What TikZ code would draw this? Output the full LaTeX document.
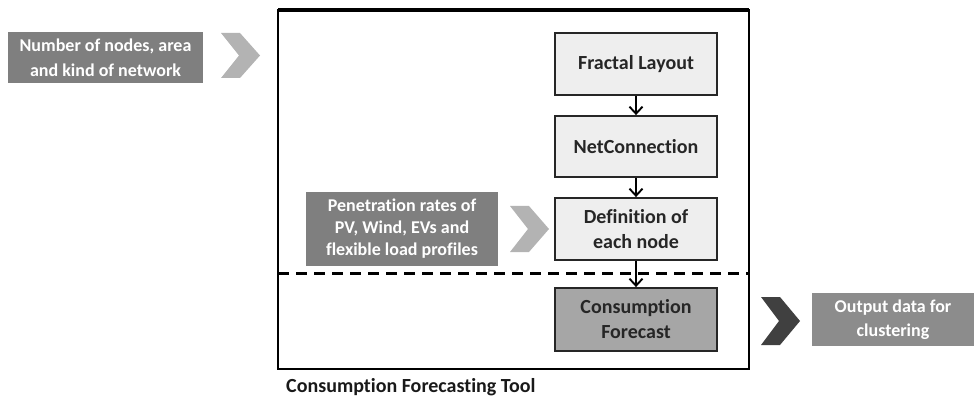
\documentclass[tikz,border=0pt]{standalone}
\usepackage{fontspec}
\setmainfont{Carlito}[Ligatures=NoCommon]
\usetikzlibrary{arrows.meta}
\definecolor{procfill}{HTML}{EEEEEE}
\definecolor{consfill}{HTML}{A6A6A6}
\definecolor{infill}{HTML}{7F7F7F}
\definecolor{outfill}{HTML}{8C8C8C}
\definecolor{chevlight}{HTML}{B3B3B3}
\definecolor{chevdark}{HTML}{404040}
\tikzset{
  procbox/.style={draw=black!85, line width=1.8pt, fill=procfill, minimum width=162pt, align=center, inner sep=0pt, font=\bfseries\fontsize{20}{25}\selectfont, text=black!85},
  inbox/.style={fill=infill, align=center, inner sep=0pt, font=\bfseries\fontsize{18}{23}\selectfont, text=white},
  flow/.style={line width=1.9pt, -{Straight Barb[length=7pt,width=13pt,line width=1.9pt]}},
}
\begin{document}
\begin{tikzpicture}[x=1pt,y=-1pt]
\useasboundingbox (0,0) rectangle (974,398);
% outer tool frame
\draw[line width=2pt] (278,10) rectangle (749,369);
\draw[line width=3.2pt] (278,10) -- (749,10);
\draw[line width=3pt, dash pattern=on 11pt off 7pt] (278,273) -- (749,273);
% process boxes
\node[procbox, minimum height=62pt] (fractal) at (636,64) {Fractal Layout};
\node[procbox, minimum height=61pt] (netconn) at (636,146.5) {NetConnection};
\node[procbox, minimum height=62pt] (defn) at (636,229) {Definition of\\each node};
\node[procbox, minimum height=63pt, fill=consfill] (cons) at (636,319.5) {Consumption\\Forecast};
\draw[flow] (fractal.south) -- (netconn.north);
\draw[flow] (netconn.south) -- (defn.north);
\draw[flow] (defn.south) -- (cons.north);
% inputs
\node[inbox, minimum width=195pt, minimum height=51pt, font=\bfseries\fontsize{18}{25}\selectfont] (num) at (105.5,57.5) {Number of nodes, area\\and kind of network};
\node[inbox, minimum width=192pt, minimum height=74pt, font=\bfseries\fontsize{18}{22}\selectfont] (pen) at (402,229) {Penetration rates of\\PV, Wind, EVs and\\flexible load profiles};
\node[inbox, fill=outfill, minimum width=162pt, minimum height=53pt, font=\bfseries\fontsize{18}{24}\selectfont] (out) at (893,319.5) {Output data for\\clustering};
% chevrons
\fill[chevlight] (221,33) -- (240,33) -- (260,55.5) -- (240,78) -- (221,78) -- (239,55.5) -- cycle;
\fill[chevlight] (510,206) -- (529,206) -- (549,229) -- (529,252) -- (510,252) -- (528,229) -- cycle;
\fill[chevdark] (761,297) -- (780,297) -- (800,321) -- (780,345) -- (761,345) -- (779,321) -- cycle;
% label
\node[anchor=west, inner sep=0pt, font=\bfseries\fontsize{20}{24}\selectfont, text=black!90] (toollabel) at (286,387) {Consumption Forecasting Tool};
\end{tikzpicture}
\end{document}
